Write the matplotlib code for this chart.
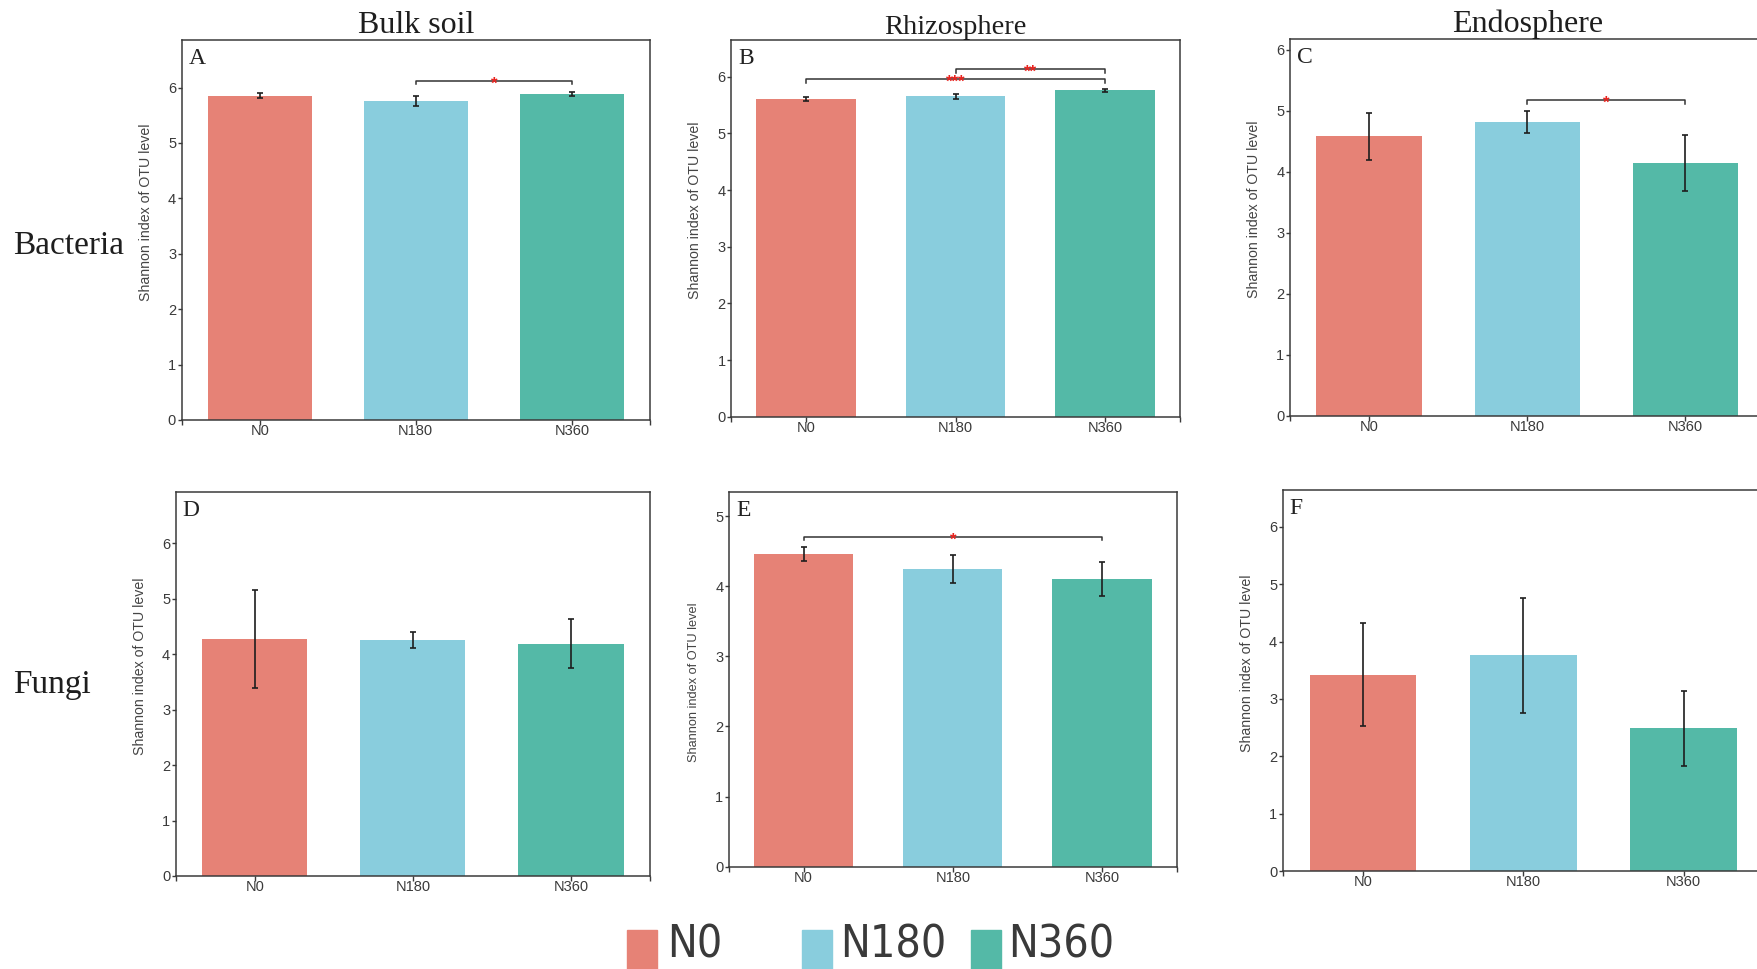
import matplotlib
matplotlib.use("Agg")
import matplotlib.pyplot as plt
from matplotlib import font_manager
from matplotlib.font_manager import FontProperties
from matplotlib.patches import Rectangle

# --- Data ---
groups = ["N0", "N180", "N360"]
colors = ["#E68276", "#89CDDD", "#54B9A7"]

bulk_bact = [5.854, 5.758, 5.884]
bulk_bact_err = [0.04, 0.09, 0.04]
rhizo_bact = [5.606, 5.653, 5.759]
rhizo_bact_err = [0.03, 0.04, 0.02]
endo_bact = [4.58, 4.81, 4.15]
endo_bact_err = [0.39, 0.18, 0.46]

bulk_fungi = [4.28, 4.26, 4.19]
bulk_fungi_err = [0.885, 0.14, 0.44]
rhizo_fungi = [4.46, 4.245, 4.105]
rhizo_fungi_err = [0.10, 0.205, 0.245]
endo_fungi = [3.42, 3.76, 2.49]
endo_fungi_err = [0.895, 1.005, 0.654]

# significance brackets: (from, to, height, label)
sig_A = [(1, 2, 6.125, "*")]
sig_B = [(0, 2, 5.953, "***"), (1, 2, 6.13, "**")]
sig_C = [(1, 2, 5.17, "*")]
sig_E = [(0, 2, 4.705, "*")]

col_titles = ["Bulk soil", "Rhizosphere", "Endosphere"]
row_titles = ["Bacteria", "Fungi"]

# --- Fonts ---
names = {f.name for f in font_manager.fontManager.ttflist}
SANS = "Liberation Sans" if "Liberation Sans" in names else "DejaVu Sans"
SERIF = "Liberation Serif" if "Liberation Serif" in names else "DejaVu Serif"
plt.rcParams["font.family"] = [SANS, "DejaVu Sans"]

# the legend labels use a very narrow face; take a condensed font if one is installed
narrow = [f for f in font_manager.fontManager.ttflist
          if ("Narrow" in f.name or "Condensed" in f.name or "ondensed" in str(f.stretch))
          and f.style == "normal" and f.weight in (400, "normal", "regular")
          and "Serif" not in f.name and "Mono" not in f.name]
if narrow:
    leg_font = FontProperties(fname=narrow[0].fname, size=32)
else:
    leg_font = FontProperties(family=SANS, size=29)

W, H = 1757, 969
fig = plt.figure(figsize=(W / 100, H / 100), dpi=100)

# panel layout: letter, rect, means, errs, sig, ymax, yticks, ylabel y
panels = [
    ("A", [0.1034, 0.5666, 0.2665, 0.3922], bulk_bact, bulk_bact_err, sig_A, 6.86, range(7), 0.546),
    ("B", [0.4161, 0.5700, 0.2555, 0.3888], rhizo_bact, rhizo_bact_err, sig_B, 6.65, range(7), 0.549),
    ("C", [0.7342, 0.5707, 0.2701, 0.3887], endo_bact, endo_bact_err, sig_C, 6.17, range(7), 0.55),
    ("D", [0.1000, 0.0960, 0.2700, 0.3966], bulk_fungi, bulk_fungi_err, [], 6.93, range(7), 0.545),
    ("E", [0.4149, 0.1056, 0.2548, 0.3870], rhizo_fungi, rhizo_fungi_err, sig_E, 5.35, range(6), 0.491),
    ("F", [0.7301, 0.1011, 0.2737, 0.3932], endo_fungi, endo_fungi_err, [], 6.64, range(7), 0.546),
]

SPINE = "#3a3a3a"
x = range(len(groups))

for k, (letter, rect, means, errs, sig, ymax, yt, ylab_y) in enumerate(panels):
    ax = fig.add_axes(rect)
    ax.bar(x, means, width=0.665, color=colors, zorder=2)
    ax.errorbar(x, means, yerr=errs, fmt="none", ecolor="#1e1e1e",
                elinewidth=1.2, capsize=2.0, capthick=1.2, zorder=3)
    ax.set_xlim(-0.5, 2.5)
    ax.set_ylim(0, ymax)
    ax.set_yticks(list(yt))
    ax.set_xticks([-0.5, 0, 1, 2, 2.5])
    ax.set_xticklabels([""] + groups + [""])
    for s in ax.spines.values():
        s.set_color(SPINE)
        s.set_linewidth(1.1)
    ax.tick_params(axis="y", direction="out", length=3, width=1.0, pad=1,
                   labelsize=10.5, colors=SPINE)
    ax.tick_params(axis="x", direction="out", length=3.5, width=1.0, pad=-0.5,
                   labelsize=10.5, colors=SPINE)
    ax.set_ylabel("Shannon index of OTU level", fontsize=10.2 if letter != "E" else 9.2,
                  color="#444444")
    ax.yaxis.set_label_coords(-29 / (rect[2] * W), ylab_y)

    ax.annotate(letter, xy=(0, 1), xycoords="axes fraction", xytext=(7, -8),
                textcoords="offset pixels", ha="left", va="top",
                fontsize=17, family=SERIF, color="#222222")

    drop = 0.055 * ymax / 6.5
    for i, j, yb, lab in sig:
        ax.plot([i, i, j, j], [yb - drop, yb, yb, yb - drop], color="#333333",
                lw=1.1, zorder=4)
        ax.annotate(lab, xy=((i + j) / 2, yb), xytext=(0, -5.5),
                    textcoords="offset points", ha="center", va="baseline",
                    color="#E8231E", fontsize=12, fontweight="bold", zorder=5)

    if k < 3:
        size = 20.5 if k == 1 else 23
        ax.set_title(col_titles[k], family=SERIF, fontsize=size, pad=4,
                     color="#1e1e1e")

# row labels
fig.text(13 / W, 1 - 246 / H, row_titles[0], family=SERIF, fontsize=24,
         ha="left", va="center", color="#1e1e1e")
fig.text(13 / W, 1 - 685 / H, row_titles[1], family=SERIF, fontsize=24,
         ha="left", va="center", color="#1e1e1e")

# legend: squares and big labels
leg_sq_x = [626.7, 801.7, 970.7]
leg_txt_x = [666.7, 840.0, 1008.0]
for c, g, sx, tx in zip(colors, groups, leg_sq_x, leg_txt_x):
    fig.patches.append(Rectangle((sx / W, -0.01), 30 / W, (975 - 930) / H + 0.004,
                                 transform=fig.transFigure, color=c, clip_on=False))
    fig.text(tx / W, 1 - 958 / H, g, fontproperties=leg_font,
             ha="left", va="baseline", color="#3a3a3a")

fig.savefig("out.png", dpi=100)
